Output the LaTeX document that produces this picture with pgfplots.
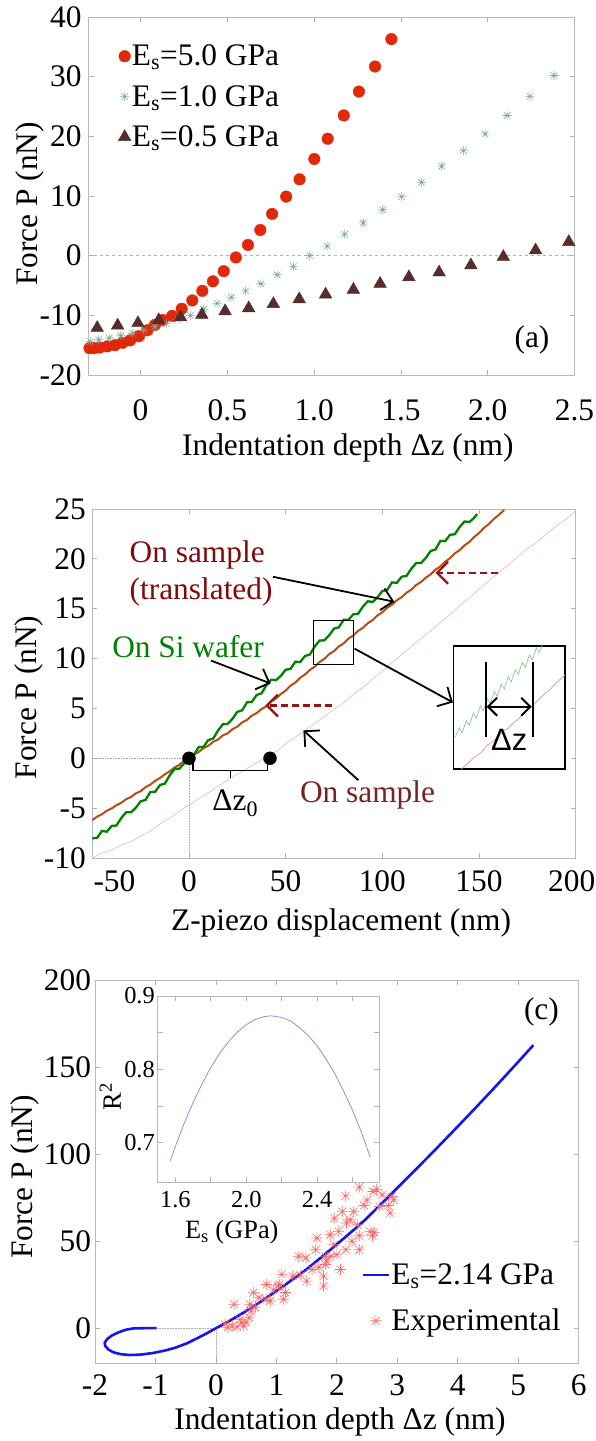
\documentclass[border=0pt]{standalone}
\usepackage{pgfplots}
\pgfplotsset{compat=1.18}
\usepackage{pgfplotstable}
\usepackage{fontspec}
\setmainfont{Liberation Serif}
\newfontfamily\sansf{Liberation Sans}
\usetikzlibrary{arrows.meta}

\definecolor{cRed}{RGB}{224,40,10}
\definecolor{cStar}{RGB}{120,170,150}
\definecolor{cTri}{RGB}{85,45,45}
\definecolor{cGreen}{RGB}{0,130,0}
\definecolor{cOrange}{RGB}{185,75,20}
\definecolor{cFaint}{RGB}{240,175,160}
\definecolor{cDR}{RGB}{130,10,10}
\definecolor{cDash}{RGB}{150,20,20}
\definecolor{cBr}{RGB}{120,35,35}
\definecolor{cBlue}{RGB}{20,20,235}
\definecolor{cLBlue}{RGB}{130,130,240}
\definecolor{cExp}{RGB}{255,105,105}
\definecolor{cPink}{RGB}{215,150,150}
\definecolor{cLGreen}{RGB}{140,200,140}

\newcommand{\ft}{\fontsize{31.5}{37}\selectfont}
\newcommand{\fti}{\fontsize{24.5}{28}\selectfont}
\newcommand{\fli}{\fontsize{26.5}{30}\selectfont}

\pgfdeclareplotmark{ast8}{%
  \pgfpathmoveto{\pgfqpoint{-\pgfplotmarksize}{0pt}}\pgfpathlineto{\pgfqpoint{\pgfplotmarksize}{0pt}}%
  \pgfpathmoveto{\pgfqpoint{0pt}{-\pgfplotmarksize}}\pgfpathlineto{\pgfqpoint{0pt}{\pgfplotmarksize}}%
  \pgfpathmoveto{\pgfqpoint{-.707\pgfplotmarksize}{-.707\pgfplotmarksize}}\pgfpathlineto{\pgfqpoint{.707\pgfplotmarksize}{.707\pgfplotmarksize}}%
  \pgfpathmoveto{\pgfqpoint{-.707\pgfplotmarksize}{.707\pgfplotmarksize}}\pgfpathlineto{\pgfqpoint{.707\pgfplotmarksize}{-.707\pgfplotmarksize}}%
  \pgfusepathqstroke}

\pgfplotsset{
  base/.style={scale only axis, anchor=north west,
    axis line style={gray!55, line width=0.8bp},
    every tick/.style={gray!60, line width=0.8bp},
    tick align=inside, major tick length=5bp,
    tick label style={font=\ft, inner sep=0pt, text=black},
    label style={font=\ft},
    legend cell align=left},
  ptimg/.style={legend image code/.code={\draw[##1] plot coordinates {(0bp,0bp)};}},
  lnimg/.style={legend image code/.code={\draw[##1] (0bp,0bp) -- (26.6bp,0bp);}},
  stimg/.style={legend image code/.code={\path (0bp,0bp) (26.6bp,0bp); \draw[##1] plot coordinates {(13.3bp,0bp)};}},
}
\tikzset{barb/.style={-{Straight Barb[length=11bp,width=22bp]}}}

% ---------- data ----------
\pgfplotstableread{
x y
-0.294 -15.5
-0.268 -15.5
-0.235 -15.4
-0.191 -15.2
-0.147 -15.0
-0.103 -14.6
-0.060 -14.2
-0.009 -13.5
0.039 -12.5
0.083 -11.6
0.127 -10.8
0.182 -10.1
0.237 -8.9
0.298 -7.5
0.356 -5.9
0.417 -4.3
0.479 -2.6
0.549 -0.3
0.619 1.8
0.690 4.3
0.758 7.0
0.839 9.9
0.916 12.8
1.001 16.2
1.078 19.6
1.171 23.5
1.258 27.5
1.351 31.7
1.445 36.3
}\tabA

\pgfplotstableread{
x y
-0.289 -14.4
-0.241 -14.1
-0.180 -13.8
-0.114 -13.4
-0.048 -13.0
0.018 -12.5
0.083 -11.9
0.149 -11.4
0.215 -10.7
0.287 -10.0
0.364 -9.0
0.441 -8.0
0.522 -7.0
0.605 -5.9
0.693 -4.7
0.787 -3.2
0.880 -1.8
0.974 0.0
1.075 1.6
1.176 3.6
1.283 5.5
1.395 7.7
1.504 9.9
1.618 12.3
1.735 15.0
1.860 17.6
1.985 20.4
2.112 23.5
2.243 26.7
2.382 30.2
}\tabB

\pgfplotstableread{
x y
-0.250 -12.1
-0.132 -11.7
-0.015 -11.3
0.105 -10.8
0.230 -10.3
0.353 -9.9
0.487 -9.3
0.623 -8.8
0.765 -8.1
0.914 -7.3
1.066 -6.5
1.226 -5.7
1.380 -4.7
1.546 -3.6
1.720 -2.8
1.903 -1.6
2.090 -0.2
2.276 0.9
2.467 2.3
}\tabC

\pgfplotstableread{
x y
0.15 2.3
0.20 0.5
0.27 1.3
0.35 0.8
0.46 1.3
0.43 3.2
0.40 5.1
0.50 3.5
0.55 6.1
0.58 9.9
0.30 13.7
0.56 13.7
0.65 12.0
0.62 20.4
0.71 17.5
0.83 16.6
0.90 15.6
0.84 25.1
0.95 22.0
1.03 24.2
1.05 25.1
1.12 16.6
1.15 20.5
1.09 30.9
1.27 29.9
1.40 30.5
1.37 41.3
1.49 40.4
1.50 27.0
1.59 33.7
1.65 45.1
1.67 51.8
1.70 35.0
1.78 29.9
1.78 24.2
1.81 36.6
1.81 41.3
1.83 38.5
1.89 53.7
1.90 41.3
1.95 48.0
1.96 63.2
2.00 42.3
2.03 55.6
2.06 33.7
2.09 67.0
2.14 76.0
2.15 45.1
2.16 60.4
2.22 62.3
2.25 49.9
2.28 67.0
2.34 59.4
2.37 81.0
2.37 53.1
2.37 45.1
2.45 70.5
2.50 73.7
2.55 55.6
2.59 53.1
2.62 55.0
2.60 78.5
2.66 79.8
2.71 69.9
2.75 76.6
2.85 70.5
2.88 66.1
2.91 75.6
2.94 73.7
}\tabExp

\begin{document}
\begin{tikzpicture}
\useasboundingbox (0bp,0bp) rectangle (596bp,-1441bp);

% ================= (a) =================
\begin{axis}[base, at={(88.5bp,-17bp)}, width=486bp, height=358bp,
  xmin=-0.3, xmax=2.5, ymin=-20, ymax=40, clip=false,
  xtick={0,0.5,1,1.5,2,2.5}, xticklabels={0,0.5,1.0,1.5,2.0,2.5},
  ytick={-20,-10,0,10,20,30,40}, yticklabels={-20,-10,0,10,20,30,40},
  xticklabel style={anchor=center, yshift=-35bp},
  yticklabel style={anchor=east, xshift=-6.8bp},
  xlabel={Indentation depth Δz (nm)},
  xlabel style={at={(axis description cs:0.5335,-0.204)}, anchor=center},
  ylabel={Force P (nN)},
  ylabel style={at={(axis description cs:-0.1195,0.478)}, anchor=center},
  legend style={at={(axis description cs:0.061,0.925)}, anchor=north west, draw=none, fill=none,
    font=\ft, inner sep=0pt, row sep=16bp, nodes={inner sep=1bp},
    /tikz/every even column/.append style={column sep=5bp}},
]
\addplot[dashed, gray!60, line width=0.8bp, forget plot] coordinates {(-0.3,0) (2.5,0)};
\addplot[only marks, mark=*, mark size=5.8bp, color=cRed, ptimg] table[x=x,y=y] {\tabA};
\addlegendentry{E\textsubscript{s}=5.0 GPa}
\addplot[only marks, mark=ast8, mark size=4.5bp, color=cStar, line width=0.6bp, ptimg] table[x=x,y=y] {\tabB};
\addlegendentry{E\textsubscript{s}=1.0 GPa}
\addplot[only marks, mark=triangle*, mark size=7.3bp, color=cTri, ptimg] table[x=x,y=y] {\tabC};
\addlegendentry{E\textsubscript{s}=0.5 GPa}
\node[font=\ft, anchor=center] at (axis description cs:0.9126,0.0978) {(a)};
\end{axis}

% ================= (b) =================
\begin{axis}[base, at={(92.3bp,-509bp)}, width=483.4bp, height=349bp,
  xmin=-50, xmax=200, ymin=-10, ymax=25, clip=false,
  xtick={-50,0,50,100,150,200}, xticklabels={,0,50,100,150,},
  ytick={-10,-5,0,5,10,15,20,25}, yticklabels={-10,-5,0,5,10,15,20,25},
  xticklabel style={anchor=center, yshift=-23bp},
  yticklabel style={anchor=east, xshift=-6.3bp},
  xlabel={Z-piezo displacement (nm)},
  xlabel style={at={(axis description cs:0.5145,-0.186)}, anchor=center},
  ylabel={Force P (nN)},
  ylabel style={at={(axis description cs:-0.132,0.46)}, anchor=center},
]
\node[font=\ft, inner sep=0pt, anchor=west] at ([xshift=1bp,yshift=-23bp]axis cs:-50,-10) {-50};
\node[font=\ft, inner sep=0pt, anchor=center] at ([xshift=-4bp,yshift=-23bp]axis cs:200,-10) {200};
\addplot[densely dotted, gray!70, line width=0.6bp] coordinates {(-50,0) (0,0) (0,-10)};
% faint: on sample (raw)
\addplot[cFaint, line width=0.55bp] coordinates {
(-50,-10.0) (-45,-9.5) (-40,-9.2) (-35,-8.7) (-30,-8.35) (-25,-7.8) (-20,-7.3) (-15,-6.6) (-10,-6.0)
(-5,-5.3) (0,-4.7) (5,-4.05) (10,-3.45) (15,-2.8) (20,-2.2) (25,-1.6) (30,-1.05) (35,-0.45) (40,0.1)
(45,0.65) (50,1.45) (55,2.1) (60,2.8) (65,3.5) (70,4.2) (75,4.9) (80,5.6) (85,6.4) (90,7.1) (95,7.95)
(100,8.75) (105,9.6) (110,10.4) (115,11.2) (120,12.0) (125,12.8) (130,13.6) (135,14.4) (140,15.3)
(145,16.1) (150,16.95) (155,17.8) (160,18.6) (165,19.35) (170,20.2) (175,21.0) (180,21.7) (185,22.5)
(190,23.3) (195,24.0) (200,24.8)};
% translated sample
\addplot[cOrange, line width=2bp] coordinates {
(-50,-6.2) (-47.5,-5.85) (-45,-5.62) (-42.5,-5.25) (-40,-5.04) (-37.5,-4.7) (-35,-4.46) (-32.5,-4.1)
(-30,-3.88) (-27.5,-3.52) (-25,-3.3) (-22.5,-2.9) (-20,-2.64) (-17.5,-2.25) (-15,-1.98) (-12.5,-1.6)
(-10,-1.32) (-7.5,-0.92) (-5,-0.66) (-2.5,-0.25) (0,0) (2.5,0.38) (5,0.63) (7.5,1.02) (10,1.25)
(12.5,1.65) (15,1.88) (17.5,2.3) (20,2.5) (22.5,2.92) (25,3.18) (27.5,3.6) (30,3.85) (32.5,4.28)
(35,4.53) (37.5,4.95) (40,5.2) (42.5,5.68) (45,5.99) (47.5,6.45) (50,6.79) (52.5,7.28) (55,7.6)
(57.5,8.08) (60,8.4) (62.5,8.86) (65,9.18) (67.5,9.65) (70,9.97) (72.5,10.45) (75,10.75) (77.5,11.22)
(80,11.53) (82.5,12.0) (85,12.33) (87.5,12.78) (90,13.1) (92.5,13.55) (95,13.87) (97.5,14.33)
(100,14.65) (102.5,15.1) (105,15.4) (107.5,15.85) (110,16.16) (112.5,16.6) (115,16.92) (117.5,17.38)
(120,17.68) (122.5,18.12) (125,18.44) (127.5,18.92) (130,19.24) (132.5,19.72) (135,20.06)
(137.5,20.55) (140,20.88) (142.5,21.35) (145,21.7) (147.5,22.2) (150,22.59) (152.5,23.1)
(155,23.48) (157.5,23.98) (160,24.37) (163,24.9)};
% Si wafer
\addplot[cGreen, line width=2.3bp] coordinates {
(-50,-8.02) (-47.5,-7.98) (-45,-7.28) (-42.5,-7.36) (-40,-6.78) (-37.5,-6.74) (-35,-5.98) (-32.5,-5.40)
(-30,-5.42) (-27.5,-4.96) (-25,-4.32) (-22.5,-4.18) (-20,-3.38) (-17.5,-3.36) (-15,-2.68) (-12.5,-2.54)
(-10,-1.72) (-7.5,-1.08) (-5,-1.04) (-2.5,-0.52) (0,0.05) (2.5,0.32) (5,1.12) (7.5,1.15) (10,1.83)
(12.5,1.97) (15,2.78) (17.5,3.41) (20,3.45) (22.5,3.96) (25,4.66) (27.5,4.81) (30,5.62) (32.5,5.66)
(35,6.35) (37.5,6.51) (40,7.32) (42.5,7.88) (45,7.83) (47.5,8.27) (50,8.88) (52.5,8.96) (55,9.69)
(57.5,9.65) (60,10.26) (62.5,10.40) (65,11.20) (67.5,11.81) (70,11.83) (72.5,12.33) (75,13.01)
(77.5,13.13) (80,13.90) (82.5,13.89) (85,14.44) (87.5,14.50) (90,15.22) (92.5,15.75) (95,15.68)
(97.5,16.14) (100,16.78) (102.5,16.88) (105,17.64) (107.5,17.60) (110,18.21) (112.5,18.29)
(115,19.02) (117.5,19.58) (120,19.59) (122.5,20.10) (125,20.79) (127.5,20.94) (130,21.80)
(132.5,21.78) (135,22.41) (137.5,22.47) (140,23.20) (142.5,23.75) (145,23.69) (147.5,24.12) (149,24.5)};
% contact points
\addplot[only marks, mark=*, mark size=6.5bp, black] coordinates {(0,0) (41.9,0)};
% bracket for Delta z0
\draw[black, line width=1.5bp] (axis cs:2,-0.4) -- (axis cs:2,-1.2) -- (axis cs:40.6,-1.2) -- (axis cs:40.6,-0.4);
\draw[black, line width=1.5bp] (axis cs:21.4,-1.2) -- (axis cs:21.4,-2.0);
\node[font=\ft, anchor=center] at (axis cs:23.9,-4.5) {Δz\textsubscript{0}};
% small box
\draw[black, line width=1.3bp] (axis cs:64.5,9.4) rectangle (axis cs:85,13.8);
% annotations
\node[font=\ft, text=cDR, anchor=west, align=left] at (axis cs:-32.5,18.5) {On sample\\(translated)};
\node[font=\ft, text=cGreen, anchor=west] at (axis cs:-41.5,11.2) {On Si wafer};
\node[font=\ft, text=cBr, anchor=west] at (axis cs:55.6,-3.7) {On sample};
\draw[black, line width=1.8bp, barb] (axis cs:43.5,18.2) -- (axis cs:106.2,15.7);
\draw[black, line width=1.8bp, barb] (axis cs:11.4,9.8) -- (axis cs:42.2,7.5);
\draw[black, line width=1.8bp, barb] (axis cs:87.6,-2.2) -- (axis cs:59.2,2.8);
\draw[black, line width=1.8bp, barb] (axis cs:85.6,11.0) -- (axis cs:136.5,5.6);
\draw[cDash, line width=2.2bp, dash pattern=on 7bp off 4bp, barb] (axis cs:73.9,5.3) -- (axis cs:39.5,5.3);
\draw[cDash, line width=2.2bp, dash pattern=on 7bp off 4bp, barb] (axis cs:160,18.6) -- (axis cs:127.5,18.6);
\end{axis}

% zoom box of (b)
\begin{axis}[at={(453.3bp,-645.7bp)}, anchor=north west, scale only axis, width=111.7bp, height=123.3bp,
  xmin=0, xmax=111.7, ymin=0, ymax=123.3, ticks=none, clip=true,
  axis line style={black, line width=1.6bp}, axis background/.style={fill=white}]
\addplot[cLGreen, line width=0.7bp] coordinates {
(2,32) (6,41.2) (9,36.3) (13,48.4) (16,43.6) (20,55.7) (23,50.8) (27,63) (30,58.1) (34,70.3) (37,65.4)
(41,77.6) (44,72.7) (48,84.8) (51,80) (55,92.1) (58,87.2) (62,99.4) (65,94.5) (69,106.7) (72,101.8)
(76,114) (79,109.1) (83,121.2) (86,116.4) (89,124)};
\addplot[cPink, line width=0.7bp] coordinates {
(8,0) (14,5) (20,11) (26,15) (30,19) (33,23) (40,28) (45,33) (50,38) (55,41) (60,46) (65,50)
(70,55) (75,60) (80,64) (85,69) (90,74) (95,78) (100,83) (105,88) (111.7,94)};
\draw[black, line width=2bp] (axis cs:32.4,32.3) -- (axis cs:32.4,106.7);
\draw[black, line width=2bp] (axis cs:79.4,32.3) -- (axis cs:79.4,106.7);
\draw[black, line width=2bp, {Straight Barb[length=9bp,width=18bp]}-{Straight Barb[length=9bp,width=18bp]}] (axis cs:33.4,62.3) -- (axis cs:78.4,62.3);
\node[font=\sansf\fontsize{31}{31}\selectfont, anchor=center] at (axis cs:55.9,29) {Δz};
\end{axis}

% ================= (c) =================
\begin{axis}[base, at={(95bp,-980bp)}, width=483.7bp, height=383bp,
  xmin=-2, xmax=6, ymin=-20, ymax=200, clip=false,
  xtick={-2,-1,0,1,2,3,4,5,6}, xticklabels={-2,-1,0,1,2,3,4,5,6},
  ytick={0,50,100,150,200}, yticklabels={0,50,100,150,200},
  xticklabel style={anchor=center, yshift=-22bp},
  yticklabel style={anchor=east, xshift=-3.8bp},
  xlabel={Indentation depth Δz (nm)},
  xlabel style={at={(axis description cs:0.5065,-0.154)}, anchor=center},
  ylabel={Force P (nN)},
  ylabel style={at={(axis description cs:-0.145,0.486)}, anchor=center},
  legend style={at={(axis description cs:0.55,0.262)}, anchor=north west, draw=none, fill=none,
    font=\ft, inner sep=0pt, row sep=21bp, nodes={inner sep=1bp},
    /tikz/every even column/.append style={column sep=2.5bp}},
]
\addplot[densely dotted, gray!70, line width=0.6bp, forget plot] coordinates {(-1,0) (0,0) (0,-20)};
\addplot[cBlue, line width=2.6bp, lnimg] coordinates {
(-0.98,0) (-1.2,0) (-1.36,-0.1) (-1.48,-0.8) (-1.6,-2.2) (-1.72,-4.2) (-1.80,-6.3) (-1.84,-8.3)
(-1.83,-10.2) (-1.78,-12.2) (-1.70,-13.8) (-1.58,-14.9) (-1.43,-15.4) (-1.25,-15.2) (-1.05,-14.3)
(-0.85,-12.9) (-0.67,-11.2) (-0.48,-8.7) (-0.30,-5.6) (-0.15,-2.9) (0,0) (0.2,3.7) (0.46,9.0)
(0.7,14.3) (0.96,20.4) (1.2,26.3) (1.46,32.8) (1.7,39.5) (1.96,47.0) (2.2,54.1) (2.47,62.3)
(2.7,70.2) (2.97,79.5) (3.2,87.5) (3.4,94.5) (3.63,102.6) (3.97,114.8) (4.3,126.8) (4.6,137.9)
(4.9,149.2) (5.25,162.6)};
\addlegendentry{E\textsubscript{s}=2.14 GPa}
\addplot[only marks, mark=ast8, mark size=5.5bp, color=cExp, line width=0.6bp, stimg]
  table[x=x,y=y] {\tabExp};
\addlegendentry{Experimental}
\node[font=\ft, anchor=center] at (axis description cs:0.923,0.9165) {(c)};
\end{axis}

% inset of (c)
\begin{axis}[base, at={(157.7bp,-996bp)}, width=221.5bp, height=186bp,
  xmin=1.5, xmax=2.75, ymin=0.6465, ymax=0.9, clip=true,
  axis background/.style={fill=white},
  tick label style={font=\fti},
  xtick={1.6,1.8,2.0,2.2,2.4,2.6}, xticklabels={1.6,,2.0,,2.4,},
  ytick={0.7,0.75,0.8,0.85,0.9}, yticklabels={0.7,,0.8,,0.9},
  xticklabel style={anchor=center, yshift=-18bp},
  yticklabel style={anchor=east, xshift=-2.7bp},
  xlabel={E\textsubscript{s} (GPa)},
  xlabel style={font=\fli, at={(axis description cs:0.3345,-0.269)}, anchor=center},
  ylabel={R\textsuperscript{2}},
  ylabel style={font=\fli, at={(axis description cs:-0.214,0.459)}, anchor=center},
]
\addplot[cLBlue, line width=0.7bp] coordinates {
(1.57,0.675) (1.60,0.695) (1.65,0.727) (1.70,0.755) (1.75,0.780) (1.80,0.803) (1.85,0.822)
(1.90,0.838) (1.95,0.851) (2.00,0.861) (2.05,0.868) (2.10,0.872) (2.14,0.873) (2.20,0.871)
(2.25,0.866) (2.30,0.857) (2.35,0.846) (2.40,0.832) (2.45,0.814) (2.50,0.794) (2.55,0.770)
(2.60,0.744) (2.65,0.714) (2.70,0.680)};
\end{axis}

\end{tikzpicture}
\end{document}
